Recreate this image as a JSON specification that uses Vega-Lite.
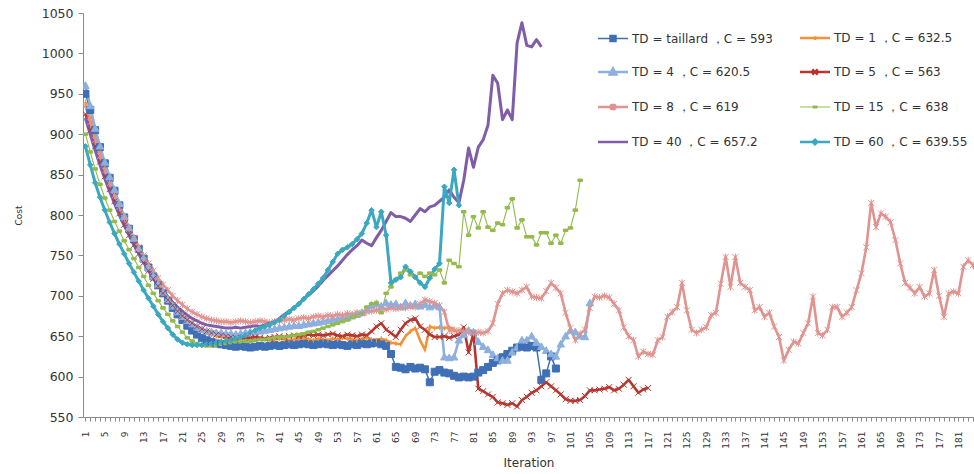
{
"$schema": "https://vega.github.io/schema/vega-lite/v6.json",
"width": 891, "height": 404,
"autosize": {"type": "none"},
"padding": {"left": 83, "top": 13, "right": 0, "bottom": 57},
"background": "white",
"config": {"view": {"stroke": null}, "font": "DejaVu Sans"},
"data": {"values": [
{"i":1,"a":950,"b":940,"c":960,"d":925,"e":935,"f":900,"g":920,"h":885},
{"i":2,"a":930,"b":918,"c":935,"d":905,"e":915,"f":878,"g":900,"h":862},
{"i":3,"a":905,"b":897,"c":907,"d":885,"e":893,"f":857,"g":880,"h":840},
{"i":4,"a":884,"b":877,"c":885,"d":866,"e":873,"f":838,"g":862,"h":822},
{"i":5,"a":864,"b":858,"c":865,"d":848,"e":855,"f":821,"g":845,"h":806},
{"i":6,"a":846,"b":842,"c":847,"d":832,"e":839,"f":806,"g":829,"h":791},
{"i":7,"a":830,"b":827,"c":831,"d":817,"e":824,"f":792,"g":814,"h":777},
{"i":8,"a":812,"b":811,"c":814,"d":802,"e":810,"f":780,"g":800,"h":764},
{"i":9,"a":797,"b":797,"c":798,"d":788,"e":796,"f":768,"g":787,"h":752},
{"i":10,"a":783,"b":784,"c":784,"d":775,"e":783,"f":757,"g":775,"h":740},
{"i":11,"a":770,"b":772,"c":771,"d":763,"e":771,"f":746,"g":763,"h":729},
{"i":12,"a":758,"b":760,"c":758,"d":752,"e":760,"f":735,"g":752,"h":718},
{"i":13,"a":746,"b":749,"c":746,"d":741,"e":750,"f":724,"g":742,"h":707},
{"i":14,"a":735,"b":738,"c":735,"d":731,"e":740,"f":713,"g":732,"h":697},
{"i":15,"a":724,"b":727,"c":724,"d":721,"e":731,"f":703,"g":723,"h":687},
{"i":16,"a":713,"b":717,"c":714,"d":712,"e":722,"f":694,"g":714,"h":677},
{"i":17,"a":703,"b":707,"c":704,"d":703,"e":714,"f":685,"g":706,"h":668},
{"i":18,"a":694,"b":698,"c":695,"d":695,"e":707,"f":677,"g":699,"h":660},
{"i":19,"a":685,"b":690,"c":687,"d":688,"e":700,"f":669,"g":692,"h":652},
{"i":20,"a":677,"b":683,"c":680,"d":681,"e":694,"f":662,"g":686,"h":646},
{"i":21,"a":670,"b":676,"c":674,"d":675,"e":689,"f":655,"g":681,"h":642},
{"i":22,"a":663,"b":670,"c":669,"d":670,"e":684,"f":648,"g":676,"h":640},
{"i":23,"a":657,"b":665,"c":665,"d":666,"e":680,"f":644,"g":672,"h":639},
{"i":24,"a":652,"b":661,"c":661,"d":662,"e":677,"f":641,"g":669,"h":639},
{"i":25,"a":648,"b":657,"c":658,"d":659,"e":674,"f":639,"g":666,"h":639},
{"i":26,"a":645,"b":654,"c":656,"d":656,"e":672,"f":638,"g":664,"h":640},
{"i":27,"a":643,"b":652,"c":655,"d":654,"e":670,"f":638,"g":663,"h":641},
{"i":28,"a":641,"b":650,"c":654,"d":652,"e":669,"f":639,"g":662,"h":642},
{"i":29,"a":640,"b":649,"c":654,"d":651,"e":668,"f":640,"g":661,"h":643},
{"i":30,"a":639,"b":648,"c":653,"d":650,"e":668,"f":641,"g":660,"h":644},
{"i":31,"a":638,"b":647,"c":653,"d":649,"e":667,"f":642,"g":660,"h":645},
{"i":32,"a":637,"b":646,"c":652,"d":648,"e":668,"f":643,"g":661,"h":647},
{"i":33,"a":638,"b":648,"c":653,"d":648,"e":669,"f":643,"g":660,"h":649},
{"i":34,"a":637,"b":647,"c":654,"d":647,"e":668,"f":644,"g":661,"h":651},
{"i":35,"a":636,"b":645,"c":655,"d":648,"e":667,"f":644,"g":662,"h":654},
{"i":36,"a":637,"b":646,"c":655,"d":649,"e":668,"f":645,"g":663,"h":657},
{"i":37,"a":638,"b":647,"c":656,"d":648,"e":669,"f":646,"g":662,"h":660},
{"i":38,"a":637,"b":646,"c":657,"d":647,"e":668,"f":646,"g":664,"h":662},
{"i":39,"a":638,"b":645,"c":658,"d":648,"e":667,"f":647,"g":666,"h":664},
{"i":40,"a":639,"b":646,"c":659,"d":649,"e":668,"f":648,"g":668,"h":667},
{"i":41,"a":638,"b":647,"c":660,"d":650,"e":669,"f":649,"g":672,"h":670},
{"i":42,"a":639,"b":646,"c":661,"d":649,"e":670,"f":649,"g":677,"h":675},
{"i":43,"a":640,"b":645,"c":662,"d":650,"e":671,"f":650,"g":681,"h":680},
{"i":44,"a":639,"b":646,"c":663,"d":651,"e":670,"f":651,"g":685,"h":685},
{"i":45,"a":640,"b":647,"c":663,"d":650,"e":672,"f":652,"g":690,"h":690},
{"i":46,"a":641,"b":648,"c":664,"d":651,"e":673,"f":653,"g":696,"h":696},
{"i":47,"a":640,"b":646,"c":665,"d":652,"e":672,"f":655,"g":701,"h":702},
{"i":48,"a":639,"b":645,"c":666,"d":651,"e":674,"f":656,"g":706,"h":708},
{"i":49,"a":640,"b":647,"c":667,"d":652,"e":675,"f":658,"g":712,"h":715},
{"i":50,"a":641,"b":646,"c":668,"d":651,"e":674,"f":660,"g":719,"h":722},
{"i":51,"a":640,"b":645,"c":669,"d":652,"e":676,"f":662,"g":725,"h":732},
{"i":52,"a":639,"b":647,"c":670,"d":653,"e":675,"f":664,"g":731,"h":742},
{"i":53,"a":640,"b":646,"c":671,"d":651,"e":677,"f":666,"g":737,"h":752},
{"i":54,"a":639,"b":648,"c":672,"d":650,"e":676,"f":668,"g":744,"h":757},
{"i":55,"a":638,"b":647,"c":673,"d":652,"e":678,"f":670,"g":751,"h":760},
{"i":56,"a":640,"b":646,"c":675,"d":651,"e":677,"f":673,"g":757,"h":764},
{"i":57,"a":639,"b":645,"c":677,"d":650,"e":679,"f":675,"g":762,"h":770},
{"i":58,"a":641,"b":647,"c":679,"d":652,"e":678,"f":678,"g":769,"h":777},
{"i":59,"a":640,"b":648,"c":683,"d":651,"e":680,"f":686,"g":765,"h":790},
{"i":60,"a":641,"b":646,"c":688,"d":656,"e":681,"f":690,"g":762,"h":806},
{"i":61,"a":642,"b":645,"c":690,"d":662,"e":682,"f":691,"g":772,"h":785},
{"i":62,"a":640,"b":647,"c":687,"d":666,"e":684,"f":679,"g":781,"h":804},
{"i":63,"a":638,"b":645,"c":691,"d":658,"e":683,"f":703,"g":792,"h":775},
{"i":64,"a":628,"b":642,"c":689,"d":654,"e":685,"f":711,"g":803,"h":716},
{"i":65,"a":612,"b":641,"c":690,"d":649,"e":684,"f":720,"g":798,"h":720},
{"i":66,"a":611,"b":640,"c":686,"d":658,"e":686,"f":728,"g":798,"h":723},
{"i":67,"a":609,"b":650,"c":691,"d":666,"e":685,"f":732,"g":796,"h":736},
{"i":68,"a":612,"b":656,"c":688,"d":670,"e":687,"f":726,"g":792,"h":730},
{"i":69,"a":610,"b":660,"c":690,"d":672,"e":686,"f":723,"g":800,"h":723},
{"i":70,"a":611,"b":645,"c":687,"d":662,"e":690,"f":728,"g":808,"h":716},
{"i":71,"a":609,"b":633,"c":689,"d":658,"e":695,"f":724,"g":804,"h":711},
{"i":72,"a":593,"b":662,"c":686,"d":652,"e":693,"f":728,"g":810,"h":722},
{"i":73,"a":606,"b":660,"c":688,"d":649,"e":691,"f":726,"g":812,"h":733},
{"i":74,"a":608,"b":661,"c":686,"d":649,"e":688,"f":732,"g":817,"h":740},
{"i":75,"a":605,"b":660,"c":624,"d":650,"e":680,"f":716,"g":822,"h":835},
{"i":76,"a":604,"b":661,"c":623,"d":648,"e":657,"f":744,"g":831,"h":815},
{"i":77,"a":601,"b":659,"c":624,"d":650,"e":657,"f":740,"g":822,"h":856},
{"i":78,"a":599,"c":645,"d":652,"e":657,"f":736,"g":815,"h":812},
{"i":79,"a":600,"c":652,"d":661,"e":656,"f":804,"g":843},
{"i":80,"a":599,"c":657,"d":630,"e":655,"f":775,"g":883},
{"i":81,"a":600,"c":655,"d":654,"e":654,"f":798,"g":859},
{"i":82,"a":605,"c":643,"d":585,"e":655,"f":784,"g":884},
{"i":83,"a":608,"c":637,"d":582,"e":654,"f":804,"g":893},
{"i":84,"a":612,"c":633,"d":578,"e":656,"f":785,"g":911},
{"i":85,"a":617,"c":627,"d":575,"e":666,"f":781,"g":973},
{"i":86,"a":620,"c":623,"d":568,"e":690,"f":790,"g":963},
{"i":87,"a":624,"c":620,"d":567,"e":703,"f":788,"g":918},
{"i":88,"a":628,"c":620,"d":565,"e":707,"f":809,"g":930},
{"i":89,"a":632,"c":630,"d":567,"e":705,"f":820,"g":918},
{"i":90,"a":636,"c":636,"d":563,"e":703,"f":784,"g":1013},
{"i":91,"a":637,"c":645,"d":571,"e":707,"f":794,"g":1038},
{"i":92,"a":636,"c":645,"d":575,"e":711,"f":773,"g":1010},
{"i":93,"a":638,"c":650,"d":580,"e":699,"f":773,"g":1008},
{"i":94,"a":636,"c":642,"d":583,"e":698,"f":763,"g":1017},
{"i":95,"a":596,"c":637,"d":588,"e":697,"f":778,"g":1008},
{"i":96,"a":604,"c":632,"d":593,"e":706,"f":778},
{"i":97,"a":625,"c":628,"d":588,"e":716,"f":765},
{"i":98,"a":610,"c":625,"d":583,"e":710,"f":775},
{"i":99,"c":640,"d":578,"e":703,"f":765},
{"i":100,"c":650,"d":572,"e":679,"f":781},
{"i":101,"c":657,"d":570,"e":660,"f":784},
{"i":102,"c":655,"d":570,"e":645,"f":806},
{"i":103,"c":650,"d":571,"e":653,"f":843},
{"i":104,"c":649,"d":576,"e":658},
{"i":105,"c":691,"d":583,"e":685},
{"i":106,"d":583,"e":699},
{"i":107,"d":584,"e":698},
{"i":108,"d":585,"e":700},
{"i":109,"d":587,"e":698},
{"i":110,"d":583,"e":690},
{"i":111,"d":585,"e":682},
{"i":112,"d":590,"e":661},
{"i":113,"d":596,"e":650},
{"i":114,"d":588,"e":645},
{"i":115,"d":580,"e":625},
{"i":116,"d":584,"e":631},
{"i":117,"d":586,"e":628},
{"i":118,"e":627},{"i":119,"e":645},{"i":120,"e":649},{"i":121,"e":674},{"i":122,"e":680},
{"i":123,"e":686},{"i":124,"e":716},{"i":125,"e":682},{"i":126,"e":658},{"i":127,"e":654},
{"i":128,"e":658},{"i":129,"e":661},{"i":130,"e":676},{"i":131,"e":679},{"i":132,"e":715},
{"i":133,"e":748},{"i":134,"e":711},{"i":135,"e":748},{"i":136,"e":716},{"i":137,"e":711},
{"i":138,"e":707},{"i":139,"e":682},{"i":140,"e":686},{"i":141,"e":674},{"i":142,"e":679},
{"i":143,"e":662},{"i":144,"e":649},{"i":145,"e":620},{"i":146,"e":633},{"i":147,"e":643},
{"i":148,"e":641},{"i":149,"e":654},{"i":150,"e":666},{"i":151,"e":699},{"i":152,"e":654},
{"i":153,"e":651},{"i":154,"e":658},{"i":155,"e":686},{"i":156,"e":686},{"i":157,"e":674},
{"i":158,"e":679},{"i":159,"e":686},{"i":160,"e":707},{"i":161,"e":728},{"i":162,"e":760},
{"i":163,"e":815},{"i":164,"e":785},{"i":165,"e":802},{"i":166,"e":798},{"i":167,"e":791},
{"i":168,"e":769},{"i":169,"e":740},{"i":170,"e":716},{"i":171,"e":710},{"i":172,"e":703},
{"i":173,"e":711},{"i":174,"e":699},{"i":175,"e":703},{"i":176,"e":732},{"i":177,"e":700},
{"i":178,"e":674},{"i":179,"e":703},{"i":180,"e":705},{"i":181,"e":703},{"i":182,"e":736},
{"i":183,"e":744},{"i":184,"e":738},{"i":185,"e":725}
]},
"transform": [
  {"fold": ["a","b","c","d","e","f","g","h"], "as": ["key","value"]},
  {"filter": "isValid(datum.value)"}
],
"encoding": {
  "x": {"field": "i", "type": "quantitative",
    "scale": {"domain": [0.5, 184.2], "nice": false, "zero": false},
    "axis": {
      "values": [1,2,3,4,5,6,7,8,9,10,11,12,13,14,15,16,17,18,19,20,21,22,23,24,25,26,27,28,29,30,31,32,33,34,35,36,37,38,39,40,41,42,43,44,45,46,47,48,49,50,51,52,53,54,55,56,57,58,59,60,61,62,63,64,65,66,67,68,69,70,71,72,73,74,75,76,77,78,79,80,81,82,83,84,85,86,87,88,89,90,91,92,93,94,95,96,97,98,99,100,101,102,103,104,105,106,107,108,109,110,111,112,113,114,115,116,117,118,119,120,121,122,123,124,125,126,127,128,129,130,131,132,133,134,135,136,137,138,139,140,141,142,143,144,145,146,147,148,149,150,151,152,153,154,155,156,157,158,159,160,161,162,163,164,165,166,167,168,169,170,171,172,173,174,175,176,177,178,179,180,181,182,183,184],
      "format": "d",
      "labelExpr": "(datum.value - 1) % 4 == 0 ? datum.label : ''",
      "labelAngle": -90, "labelFontSize": 9, "labelColor": "#333333",
      "labelPadding": 10, "labelOverlap": false, "labelFlush": false,
      "tickSize": 4, "tickColor": "#8a8a8a", "domainColor": "#8a8a8a",
      "grid": false,
      "title": "Iteration", "titleFontSize": 12, "titleFontWeight": "normal",
      "titleColor": "#333333", "titlePadding": 9
    }},
  "y": {"field": "value", "type": "quantitative",
    "scale": {"domain": [550, 1050], "nice": false, "zero": false},
    "axis": {
      "values": [550,600,650,700,750,800,850,900,950,1000,1050],
      "format": "d",
      "labelFontSize": 12.5, "labelColor": "#333333", "labelPadding": 5,
      "tickSize": 5, "tickColor": "#8a8a8a", "domainColor": "#8a8a8a",
      "grid": false,
      "title": "Cost", "titleFontSize": 9, "titleFontWeight": "normal",
      "titleColor": "#333333", "titlePadding": 18
    }},
  "color": {"field": "key", "type": "nominal",
    "scale": {"domain": ["a","c","e","g","b","d","f","h"],
      "range": ["#3F6FB5","#8DB0DE","#E0938F","#7F5DA8","#F39237","#B5372F","#94BA4C","#3AA8C1"]},
    "legend": {
      "orient": "none", "legendX": 524, "legendY": 19, "columns": 2, "title": null,
      "symbolSize": 900, "symbolStrokeWidth": 2.5, "labelFontSize": 12, "labelColor": "#333333",
      "labelOffset": 13, "labelLimit": 0, "rowPadding": 18, "columnPadding": 18,
      "labelExpr": "{'a':'TD = taillard ，C =  593','b':'TD = 1 ，C =  632.5','c':'TD = 4 ，C =  620.5','d':'TD = 5 ，C =  563','e':'TD = 8 ，C =  619','f':'TD = 15 ，C =  638','g':'TD = 40 ，C =  657.2','h':'TD = 60 ，C =  639.55'}[datum.value]",
      "encode": {"symbols": {"update": {
        "shape": {"signal": "{'a':'M-1,0H1M-0.2,-0.2H0.2V0.2H-0.2Z','b':'M-1,0H1M0,-0.12V0.12','c':'M-1,0H1M0,-0.24L0.22,0.16H-0.22Z','d':'M-1,0H1M-0.18,-0.18L0.18,0.18M-0.18,0.18L0.18,-0.18','e':'M-1,0H1M-0.18,-0.18L0.18,0.18M-0.18,0.18L0.18,-0.18M0,-0.22V0.22','f':'M-1,0H1M-0.12,-0.06H0.12V0.06H-0.12Z','g':'M-1,0H1','h':'M-1,0H1M0,-0.15L0.15,0L0,0.15L-0.15,0Z'}[datum.value]"},
        "size": {"value": 900},
        "fill": {"scale": "color", "field": "value"},
        "stroke": {"scale": "color", "field": "value"},
        "strokeWidth": {"signal": "datum.value == 'a' ? 1.5 : (datum.value == 'f' ? 1.2 : 2.5)"},
        "opacity": {"value": 1}
      }}}
    }}
},
"layer": [
  {"transform": [{"filter": "datum.key == 'a'"}],
   "mark": {"type": "line", "clip": true, "strokeWidth": 1.5, "strokeJoin": "round"}},
  {"transform": [{"filter": "datum.key == 'b' || datum.key == 'c' || datum.key == 'd' || datum.key == 'e'"}],
   "mark": {"type": "line", "clip": true, "strokeWidth": 2.6, "strokeJoin": "round"}},
  {"transform": [{"filter": "datum.key == 'f'"}],
   "mark": {"type": "line", "clip": true, "strokeWidth": 1.1, "strokeJoin": "round"}},
  {"transform": [{"filter": "datum.key == 'g' || datum.key == 'h'"}],
   "mark": {"type": "line", "clip": true, "strokeWidth": 3, "strokeJoin": "round"}},
  {"transform": [{"filter": "datum.key != 'g'"}],
   "mark": {"type": "point", "clip": true, "filled": true, "opacity": 1, "size": 100, "strokeWidth": 1},
   "encoding": {
     "stroke": {"field": "key", "type": "nominal",
       "scale": {"domain": ["a","b","c","d","e","f","g","h"],
         "range": ["#3F6FB5","#F39237","#8DB0DE","#B5372F","#E0938F","#94BA4C","#7F5DA8","#3AA8C1"]},
       "legend": null},
     "shape": {"field": "key", "type": "nominal",
       "scale": {"domain": ["a","b","c","d","e","f","h"],
         "range": ["M-0.7,-0.7H0.7V0.7H-0.7Z","M0,-0.5V0.5","M0,-0.8L0.75,0.55H-0.75Z","M-0.6,-0.6L0.6,0.6M-0.6,0.6L0.6,-0.6","M-0.6,-0.6L0.6,0.6M-0.6,0.6L0.6,-0.6M0,-0.7V0.7","M-0.45,-0.25H0.45V0.25H-0.45Z","M0,-0.55L0.55,0L0,0.55L-0.55,0Z"]},
       "legend": null}
   }}
]
}
